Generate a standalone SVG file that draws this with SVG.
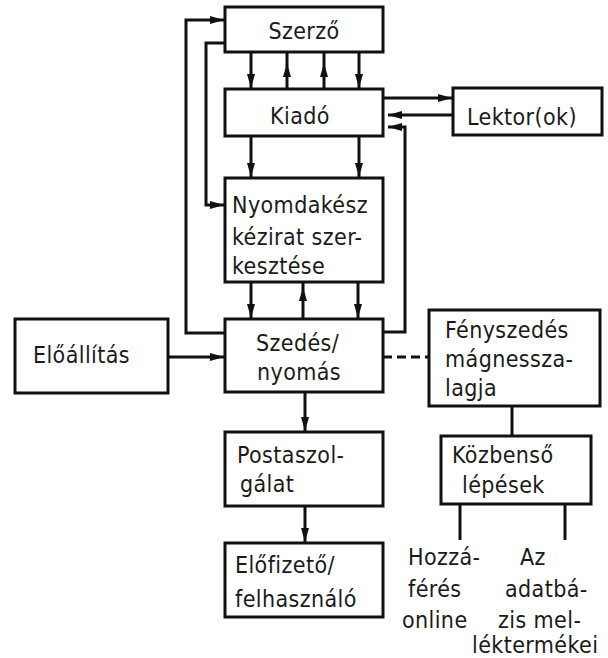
<svg xmlns="http://www.w3.org/2000/svg" width="608" height="658" viewBox="0 0 608 658">
<style>
.box{fill:#fff;stroke:#111;stroke-width:3}
.t{font-family:"DejaVu Sans Condensed","DejaVu Sans",sans-serif;font-stretch:condensed;font-size:23px;fill:#1a1a1a;letter-spacing:0.4px}
.c{fill:none;stroke:#111;stroke-width:3}
.d{stroke-dasharray:9 5}
</style>
<defs>
<marker id="a" markerUnits="userSpaceOnUse" markerWidth="16" markerHeight="10" refX="14" refY="4" orient="auto">
<path d="M0,0 L14,4 L0,8 z" fill="#111"/>
</marker>
</defs>
<rect width="608" height="658" fill="#fff"/>
<g id="connectors">
<path class="c" d="M251,52 V88" marker-end="url(#a)"/>
<path class="c" d="M287,89 V63 V52" marker-mid="url(#a)"/>
<path class="c" d="M324,89 V63 V52" marker-mid="url(#a)"/>
<path class="c" d="M359,52 V88" marker-end="url(#a)"/>
<path class="c" d="M251,136 V177" marker-end="url(#a)"/>
<path class="c" d="M359,136 V177" marker-end="url(#a)"/>
<path class="c" d="M251,282 V318" marker-end="url(#a)"/>
<path class="c" d="M358,282 V318" marker-end="url(#a)"/>
<path class="c" d="M303,319 V287 V282" marker-mid="url(#a)"/>
<path class="c" d="M225,333 H186 V20 H224" marker-end="url(#a)"/>
<path class="c" d="M225,43 H206 V205 H224" marker-end="url(#a)"/>
<path class="c" d="M383,98 H452" marker-end="url(#a)"/>
<path class="c" d="M453,115 H388" marker-end="url(#a)"/>
<path class="c" d="M383,332 H405 V127 H388" marker-end="url(#a)"/>
<path class="c" d="M168,357 H224" marker-end="url(#a)"/>
<path class="c" d="M305,392 V431" marker-end="url(#a)"/>
<path class="c" d="M305,506 V542" marker-end="url(#a)"/>
<path class="c d" d="M383,357 H429"/>
<path class="c" d="M512,406 V436"/>
<path class="c" d="M460,504 V540"/>
<path class="c" d="M565,504 V540"/>
</g>
<g id="szerzo">
<rect class="box" x="225" y="7" width="158" height="45"/>
<text class="t" x="304" y="39" text-anchor="middle">Szerző</text>
</g>
<g id="kiado">
<rect class="box" x="225" y="89" width="158" height="47"/>
<text class="t" x="300" y="124" text-anchor="middle">Kiadó</text>
</g>
<g id="lektor">
<rect class="box" x="453" y="88" width="149" height="47"/>
<text class="t" x="467" y="125">Lektor(ok)</text>
</g>
<g id="nyomdakesz">
<rect class="box" x="225" y="178" width="158" height="104"/>
<text class="t" x="232" y="213">Nyomdakész</text>
<text class="t" x="232" y="245">kézirat szer-</text>
<text class="t" x="232" y="274">kesztése</text>
</g>
<g id="eloallitas">
<rect class="box" x="15" y="319" width="153" height="74"/>
<text class="t" x="33" y="363">Előállítás</text>
</g>
<g id="szedes">
<rect class="box" x="225" y="319" width="158" height="73"/>
<text class="t" x="256" y="351">Szedés/</text>
<text class="t" x="257" y="380">nyomás</text>
</g>
<g id="fenyszedes">
<rect class="box" x="429" y="310" width="171" height="96"/>
<text class="t" x="445" y="338">Fényszedés</text>
<text class="t" x="445" y="367">mágnessza-</text>
<text class="t" x="445" y="396">lagja</text>
</g>
<g id="kozbenso">
<rect class="box" x="441" y="436" width="150" height="68"/>
<text class="t" x="452" y="463">Közbenső</text>
<text class="t" x="462" y="493">lépések</text>
</g>
<g id="posta">
<rect class="box" x="225" y="432" width="158" height="74"/>
<text class="t" x="237" y="463">Postaszol-</text>
<text class="t" x="240" y="492">gálat</text>
</g>
<g id="elofizeto">
<rect class="box" x="225" y="543" width="158" height="74"/>
<text class="t" x="235" y="573">Előfizető/</text>
<text class="t" x="235" y="607">felhasználó</text>
</g>
<g id="hozzaferes">
<text class="t" x="408" y="565">Hozzá-</text>
<text class="t" x="408" y="597">férés</text>
<text class="t" x="402" y="628">online</text>
</g>
<g id="adatbazis">
<text class="t" x="520" y="565">Az</text>
<text class="t" x="505" y="597">adatbá-</text>
<text class="t" x="498" y="628">zis mel-</text>
<text class="t" x="472" y="653">léktermékei</text>
</g>
</svg>
